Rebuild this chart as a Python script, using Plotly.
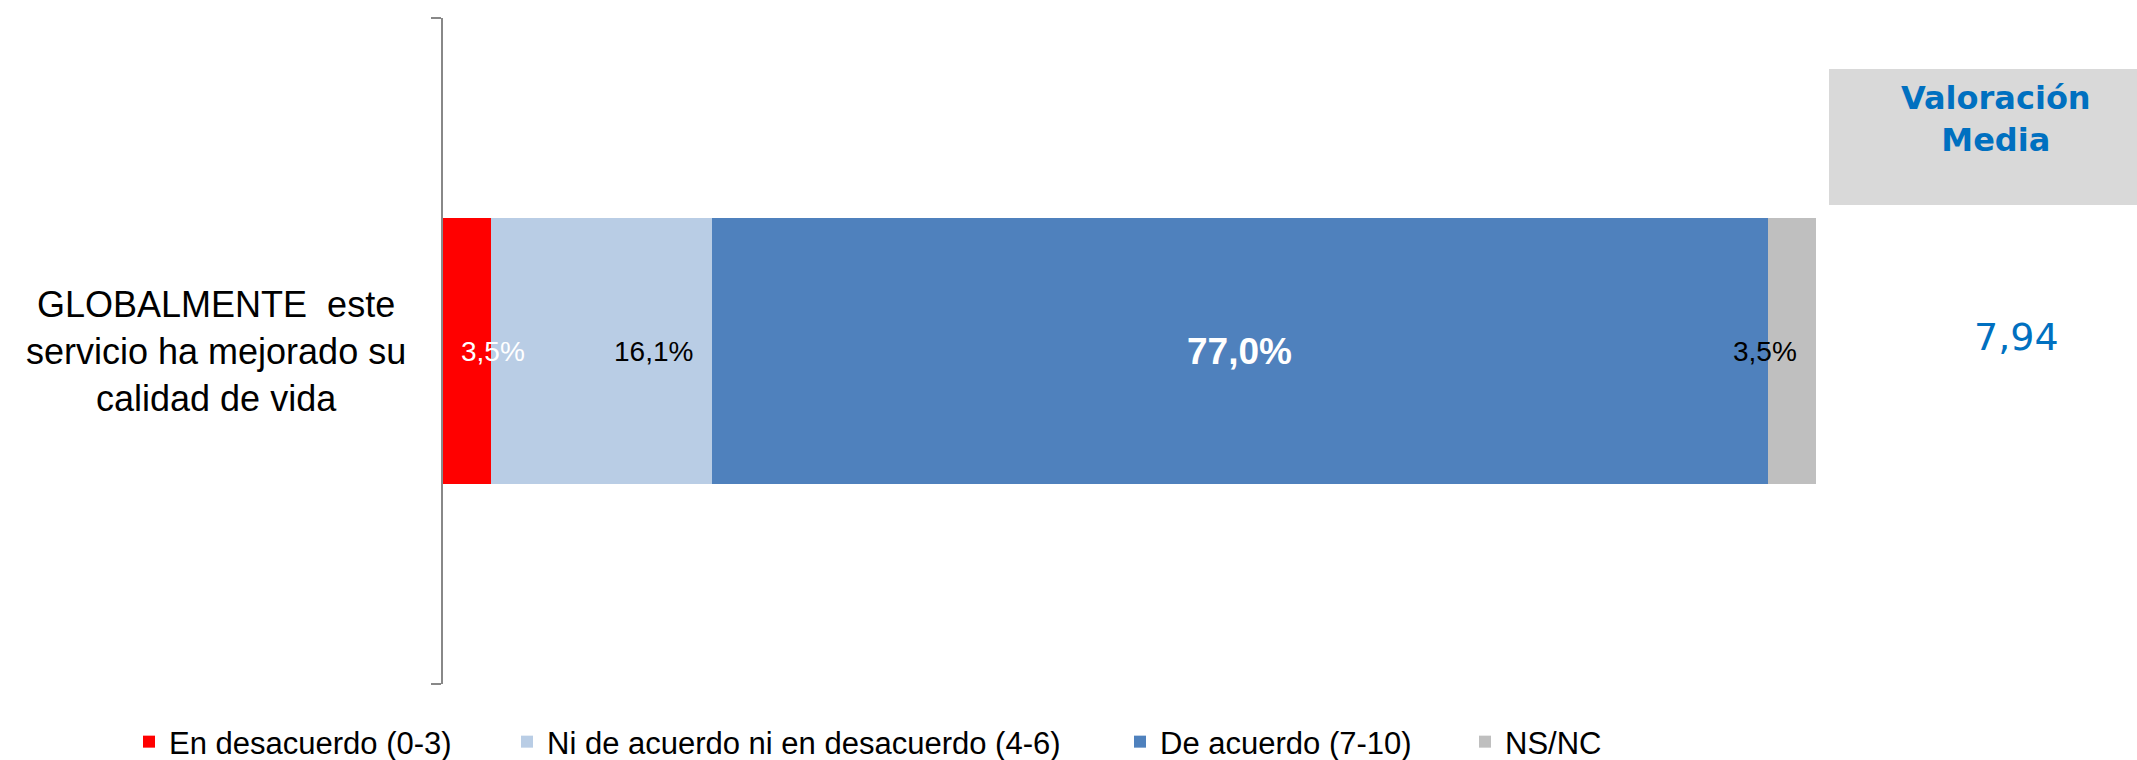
import plotly.graph_objects as go

# ---- data ----
categories = ["GLOBALMENTE \u00a0este<br>servicio ha mejorado su<br>calidad de vida"]
series_names = ["En desacuerdo (0-3)", "Ni de acuerdo ni en desacuerdo (4-6)",
                "De acuerdo (7-10)", "NS/NC"]
series_values = [3.5, 16.1, 77.0, 3.5]
value_labels = ["3,5%", "16,1%", "77,0%", "3,5%"]
header_text = "Valoración<br>Media"
mean_value = "7,94"

# ---- styles ----
colors = ["#FF0000", "#B9CDE5", "#4F81BD", "#BFBFBF"]
label_colors = ["white", "black", "white", "black"]
label_sizes = [28, 28, 37, 28]
label_bold = [False, False, True, False]
# label placement: (anchor, shift px, reference: 'start'|'end'|'center')
label_place = [("left", 16, "start"), ("right", -17, "end"),
               ("center", 0, "center"), ("right", -17, "end")]
legend_x_px = [129, 507, 1120, 1465]

W, H = 2137, 760
ML, MR, MT, MB = 443, 321, 18, 76

fig = go.Figure()
total = sum(series_values)
legend_ids = ["legend", "legend2", "legend3", "legend4"]
for i, (name, val) in enumerate(zip(series_names, series_values)):
    fig.add_trace(go.Bar(
        y=[0], x=[val], name=name, orientation="h", width=0.4,
        marker=dict(color=colors[i], line=dict(width=0)),
        hoverinfo="skip", legend=legend_ids[i], showlegend=True,
    ))

annotations = []
cum = 0.0
for i, val in enumerate(series_values):
    anchor, shift, ref = label_place[i]
    if ref == "start":
        xv = cum
    elif ref == "end":
        xv = cum + val
    else:
        xv = cum + val / 2
    txt = f"<b>{value_labels[i]}</b>" if label_bold[i] else value_labels[i]
    annotations.append(dict(
        x=xv, y=0, xref="x", yref="y", text=txt, showarrow=False,
        xanchor=anchor, yanchor="middle", xshift=shift,
        font=dict(family="Liberation Sans, Arial", size=label_sizes[i],
                  color=label_colors[i]),
    ))
    cum += val

pw = W - ML - MR
ph = H - MT - MB
def px_x(p):
    return (p - ML) / pw
def px_y(p):
    return (H - MB - p) / ph

# category label
annotations.append(dict(
    x=px_x(216), y=0, xref="paper", yref="y", text=categories[0],
    showarrow=False, xanchor="center", yanchor="middle", align="center",
    font=dict(family="Liberation Sans, Arial", size=36, color="black"),
))
# header text
annotations.append(dict(
    x=px_x(1996), y=px_y(118.5), xref="paper", yref="paper", text=f"<b>{header_text}</b>",
    showarrow=False, xanchor="center", yanchor="middle", align="center",
    font=dict(family="DejaVu Sans", size=32, color="#0070C0"),
))
# mean value
annotations.append(dict(
    x=px_x(2016), y=px_y(337), xref="paper", yref="paper", text=mean_value,
    showarrow=False, xanchor="center", yanchor="middle",
    font=dict(family="DejaVu Sans", size=38, color="#0070C0"),
))

shapes = [dict(
    type="rect", xref="paper", yref="paper",
    x0=px_x(1829), x1=px_x(2145), y0=px_y(205), y1=px_y(69),
    fillcolor="#D9D9D9", line=dict(width=0), layer="below",
)]

layout_legends = {}
for i, lid in enumerate(legend_ids):
    layout_legends[lid] = dict(
        orientation="h", xref="container", yref="container",
        x=legend_x_px[i] / W, y=(H - 742) / H, xanchor="left", yanchor="middle",
        font=dict(family="Liberation Sans, Arial", size=31, color="black"),
        bgcolor="rgba(0,0,0,0)", borderwidth=0, visible=True,
    )

fig.update_layout(
    width=W, height=H, barmode="stack", showlegend=True,
    margin=dict(l=ML, r=MR, t=MT, b=MB, pad=0),
    paper_bgcolor="white", plot_bgcolor="white",
    xaxis=dict(range=[0, total], visible=False, fixedrange=True),
    yaxis=dict(range=[-0.5, 0.5], showgrid=False, zeroline=False,
               showline=True, linecolor="#888888", linewidth=2,
               tickvals=[0], ticktext=[""], ticks="",
               minor=dict(tickvals=[-0.5, 0.5], ticks="outside", ticklen=10,
                          tickcolor="#888888", tickwidth=2),
               fixedrange=True),
    annotations=annotations, shapes=shapes,
    **layout_legends,
)

fig.write_html("out.html", config={"displayModeBar": False},
               post_script="document.body.style.margin='0px';")
